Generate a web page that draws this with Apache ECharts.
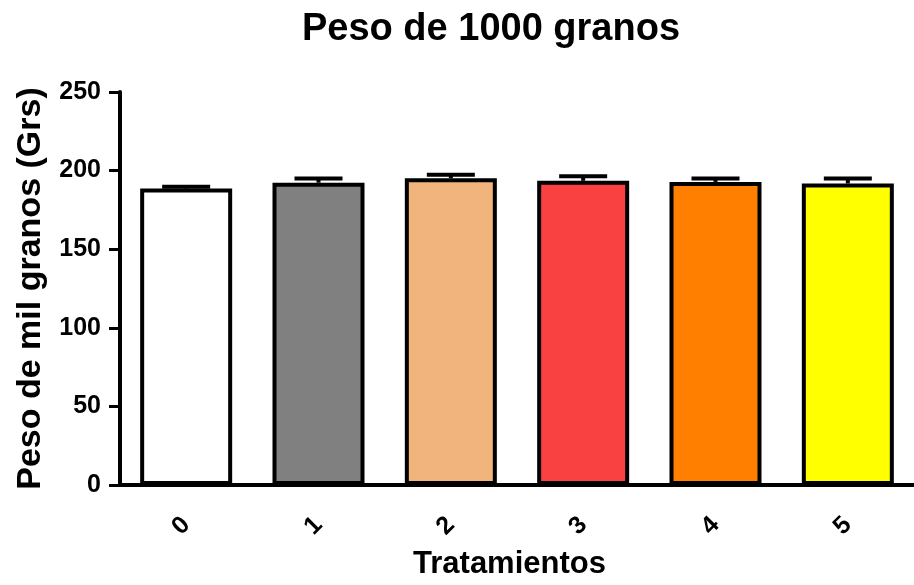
<!DOCTYPE html>
<html>
<head>
<meta charset="utf-8">
<script src="https://cdn.jsdelivr.net/npm/echarts@6/dist/echarts.min.js"></script>
<style>
  html, body { margin: 0; padding: 0; background: #ffffff; }
  #chart { width: 914px; height: 585px; }
</style>
</head>
<body>
<div id="chart"></div>
<script>
// Treatments and the mean 1000-grain weight (g) with its standard error
const categories = ['0', '1', '2', '3', '4', '5'];
const means = [188.6, 192.3, 195.1, 193.5, 192.8, 191.8];
const errors = [1.1, 2.7, 2.3, 2.9, 2.2, 3.2];
const barColors = ['#FFFFFF', '#808080', '#F1B47C', '#F94141', '#FF7F00', '#FFFF00'];
const yTicks = { min: 0, max: 250, step: 50 };
const chartTitle = 'Peso de 1000 granos';

const FONT = "'Liberation Sans', Arial, sans-serif";

const chart = echarts.init(document.getElementById('chart'), null, { renderer: 'canvas' });

const option = {
  backgroundColor: '#ffffff',
  animation: false,
  graphic: [
    {
      type: 'text',
      x: 491,
      y: 30,
      style: {
        text: chartTitle,
        font: "bold 38px 'Liberation Sans', Arial, sans-serif",
        fill: '#000',
        textAlign: 'center',
        textVerticalAlign: 'middle'
      }
    }
  ],
  grid: { left: 120, top: 92, bottom: 92, width: 806, containLabel: false },
  xAxis: {
    type: 'category',
    data: categories,
    name: 'Tratamientos',
    nameLocation: 'middle',
    nameGap: 64,
    nameTextStyle: {
      fontFamily: FONT, fontWeight: 'bold', fontSize: 31, color: '#000',
      padding: [0, 15, 0, 0]
    },
    axisLine: { lineStyle: { color: '#000', width: 4 } },
    axisTick: { alignWithLabel: true, length: 12, lineStyle: { color: '#000', width: 3 } },
    axisLabel: {
      rotate: 45, margin: 36,
      fontFamily: FONT, fontWeight: 'bold', fontSize: 25, color: '#000'
    },
    splitLine: { show: false }
  },
  yAxis: {
    type: 'value',
    min: yTicks.min,
    max: yTicks.max,
    interval: yTicks.step,
    name: 'Peso de mil granos (Grs)',
    nameLocation: 'middle',
    nameGap: 72,
    nameTextStyle: { fontFamily: FONT, fontWeight: 'bold', fontSize: 34, color: '#000' },
    axisLine: { show: true, lineStyle: { color: '#000', width: 4 } },
    axisTick: { show: true, length: 11, lineStyle: { color: '#000', width: 3 } },
    axisLabel: { margin: 19, fontFamily: FONT, fontWeight: 'bold', fontSize: 25, color: '#000' },
    splitLine: { show: false }
  },
  series: [
    {
      type: 'bar',
      barWidth: 92,
      data: means.map((v, i) => ({
        value: v,
        itemStyle: { color: barColors[i], borderColor: '#000', borderWidth: 4 }
      })),
      z: 2
    },
    {
      // upward standard-error whiskers with a cap
      type: 'custom',
      z: 3,
      data: means.map((v, i) => [i, v, v + errors[i]]),
      renderItem: function (params, api) {
        const base = api.coord([api.value(0), api.value(1)]);
        const top = api.coord([api.value(0), api.value(2)]);
        const half = 24;
        const style = { stroke: '#000', lineWidth: 4, fill: null };
        return {
          type: 'group',
          children: [
            { type: 'line', shape: { x1: base[0], y1: base[1], x2: top[0], y2: top[1] }, style: style },
            { type: 'line', shape: { x1: top[0] - half, y1: top[1], x2: top[0] + half, y2: top[1] }, style: style }
          ]
        };
      }
    }
  ]
};

chart.setOption(option);
</script>
</body>
</html>
